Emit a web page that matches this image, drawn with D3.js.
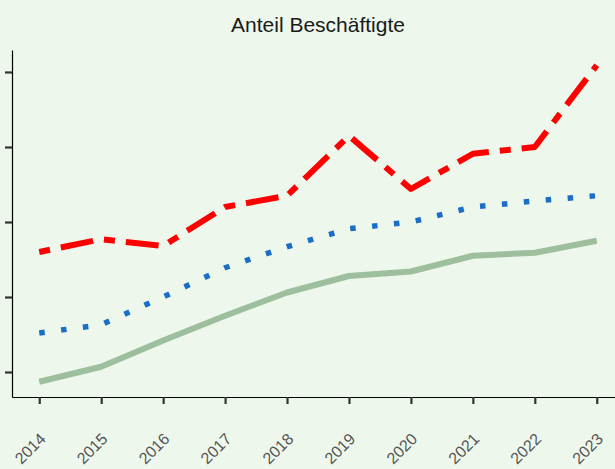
<!DOCTYPE html>
<html>
<head>
<meta charset="utf-8">
<script src="https://cdn.jsdelivr.net/npm/d3@7"></script>
<style>
  html, body { margin: 0; padding: 0; background: #eef7ec; }
  svg { display: block; }
</style>
</head>
<body>
<svg id="chart" width="615" height="469"></svg>
<script>
const years = ["2014","2015","2016","2017","2018","2019","2020","2021","2022","2023"];
const seriesRed   = [26.0, 27.7, 26.8, 32.0, 33.5, 41.5, 34.4, 39.1, 40.0, 50.9];
const seriesBlue  = [15.2, 16.3, 20.0, 23.9, 26.7, 29.1, 30.0, 32.0, 32.8, 33.5];
const seriesGreen = [8.7, 10.7, 14.2, 17.5, 20.6, 22.8, 23.4, 25.5, 25.9, 27.5];
const yTicks = [10, 20, 30, 40, 50];
const title = "Anteil Beschäftigte";

(function () {
const svg = d3.select("#chart");
const W = 615, H = 469;
svg.append("rect").attr("width", W).attr("height", H).attr("fill", "#eef7ec");

const mLeft = 12, mRight = 624, mTop = 50, mBottom = 397;

const x = d3.scalePoint().domain(years).range([mLeft, mRight]).padding(0.44);
const y = d3.scaleLinear().domain([6.667, 52.93]).range([mBottom, mTop]);

// title
svg.append("text")
  .attr("x", 318).attr("y", 32)
  .attr("text-anchor", "middle")
  .attr("font-family", "Liberation Sans, Arial, sans-serif")
  .attr("font-size", 21)
  .attr("fill", "#1a1a1a")
  .text(title);

// axes
const yAxis = svg.append("g").attr("transform", `translate(${mLeft},0)`)
  .call(d3.axisLeft(y).tickValues(yTicks).tickSize(7).tickSizeOuter(0).tickFormat(""));
yAxis.select(".domain").attr("stroke", "#000").attr("stroke-width", 1.2);
yAxis.selectAll(".tick line").attr("stroke", "#333").attr("stroke-width", 2.2);

const xAxis = svg.append("g").attr("transform", `translate(0,${mBottom})`)
  .call(d3.axisBottom(x).tickSize(7).tickSizeOuter(0));
xAxis.select(".domain").attr("stroke", "#000").attr("stroke-width", 1.2);
xAxis.selectAll(".tick line").attr("stroke", "#333").attr("stroke-width", 2.2);
xAxis.selectAll(".tick text")
  .attr("font-family", "Liberation Sans, Arial, sans-serif")
  .attr("font-size", 16)
  .attr("fill", "#555555")
  .attr("text-anchor", "end")
  .attr("dy", null)
  .attr("y", null)
  .attr("transform", "translate(-1,35) rotate(-45)")
  .attr("dominant-baseline", "hanging");

const line = d3.line().x((d, i) => x(years[i])).y(d => y(d));

svg.append("path").datum(seriesGreen)
  .attr("d", line).attr("fill", "none")
  .attr("stroke", "#9dbf9d").attr("stroke-width", 6)
  .attr("stroke-linejoin", "round");

svg.append("path").datum(seriesBlue)
  .attr("d", line).attr("fill", "none")
  .attr("stroke", "#1b6ec8").attr("stroke-width", 5.5)
  .attr("stroke-dasharray", "5.5,16.5");

svg.append("path").datum(seriesRed)
  .attr("d", line).attr("fill", "none")
  .attr("stroke", "#ff0000").attr("stroke-width", 6)
  .attr("stroke-linejoin", "round")
  .attr("stroke-dasharray", "11,11,33,11");
})();
</script>
</body>
</html>
